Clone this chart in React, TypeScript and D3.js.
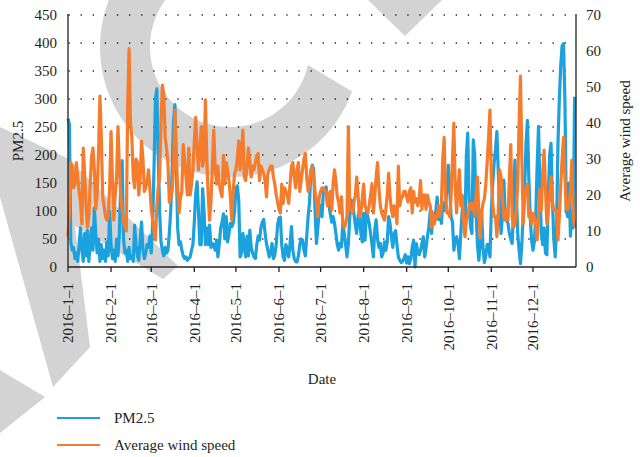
import React from 'react';
import * as d3 from 'd3';

// Daily PM2.5 values, 2016-01-01 .. 2016-12-31
const pm25: number[] = [
  265, 255, 45, 30, 35, 15, 25, 10, 40, 70,
  30, 10, 60, 20, 65, 10, 40, 70, 30, 105,
  60, 25, 50, 10, 40, 15, 30, 10, 45, 20,
  100, 40, 15, 30, 10, 50, 20, 60, 150, 190,
  50, 25, 30, 10, 35, 15, 20, 10, 75, 40,
  20, 12, 50, 80, 30, 15, 25, 40, 35, 55,
  25, 80, 180, 300, 318, 200, 100, 45, 30, 20,
  35, 25, 30, 60, 100, 170, 260, 290, 180, 70,
  40, 45, 30, 20, 15, 18, 12, 15, 18, 30,
  40, 80, 130, 152, 100, 40, 40, 140, 100, 40,
  70, 40, 75, 35, 42, 40, 30, 48, 18, 42,
  70, 80, 95, 50, 90, 45, 60, 78, 72, 78,
  100, 140, 145, 120, 18, 25, 60, 40, 18, 55,
  20, 66, 35, 25, 18, 15, 40, 55, 48, 70,
  80, 85, 60, 42, 30, 18, 25, 42, 15, 22,
  40, 75, 88, 89, 40, 18, 12, 40, 30, 18,
  42, 72, 30, 15, 10, 9, 20, 40, 50, 48,
  30, 20, 55, 90, 115, 170, 182, 175, 100, 42,
  70, 100, 110, 90, 135, 140, 143, 110, 110, 95,
  80, 90, 78, 60, 40, 30, 42, 36, 78, 60,
  40, 18, 42, 90, 120, 115, 95, 75, 60, 90,
  102, 60, 45, 96, 48, 102, 90, 78, 60, 40,
  18, 66, 84, 50, 35, 42, 18, 25, 45, 30,
  45, 90, 78, 55, 35, 60, 65, 40, 18, 12,
  8, 10, 15, 22, 7, 18, 6, 15, 35, 48,
  0, 42, 25, 22, 30, 42, 54, 18, 35, 55,
  72, 100, 60, 95, 78, 100, 125, 85, 102, 78,
  115, 105, 110, 140, 182, 140, 90, 80, 30, 48,
  54, 42, 15, 60, 100, 125, 70, 200, 239, 120,
  72, 60, 227, 200, 100, 40, 12, 42, 102, 35,
  8, 20, 40, 40, 18, 100, 150, 185, 210, 242,
  170, 110, 60, 90, 155, 95, 84, 78, 60, 50,
  42, 102, 191, 130, 60, 30, 6, 42, 96, 140,
  220, 262, 160, 90, 48, 30, 45, 90, 180, 251,
  140, 60, 40, 70, 25, 22, 120, 200, 221, 120,
  50, 18, 70, 220, 300, 360, 395, 399, 300, 100,
  90, 150, 55, 100, 70, 304,
];

// Daily average wind speed (right axis)
const windSpeed: number[] = [
  8.4, 15, 29, 28, 22, 23, 29, 25, 21, 18,
  12, 33, 26, 17, 11, 14, 23, 30.6, 33, 27,
  16, 20, 32, 47.5, 36, 19.5, 17, 14, 13, 14,
  22, 37.6, 25, 13, 20, 25, 39, 28, 19.5, 16,
  13, 11, 10, 45, 60.7, 40, 36, 25, 22, 30,
  29, 20, 25, 35, 30, 21, 22, 24, 27, 22,
  16, 13, 10, 7.5, 17, 22, 25, 40, 50.5, 48,
  36, 33, 29, 18, 19, 21, 27, 43.6, 32, 22,
  15, 19, 21, 34, 30, 25, 20, 33, 20, 23,
  27, 35, 41.6, 33, 27, 32.5, 39, 28, 30, 46.4,
  30, 20, 13, 18, 28, 38, 28, 23, 28, 23,
  21, 19.5, 31, 23, 29, 27, 24, 19.5, 13, 21,
  26, 27, 30, 35, 27, 32, 38, 25, 24, 28,
  33, 29, 25, 28, 27, 29, 31, 31.5, 24, 28,
  27, 26, 24, 19.5, 26, 27, 28, 28, 25, 23,
  20, 18, 16, 15, 23, 17.7, 22, 21, 20, 17.7,
  23, 28, 29, 25, 22, 27, 29, 21, 24, 27,
  30, 31.5, 25, 21, 23, 27, 28, 25, 21, 17.7,
  14, 19.5, 21, 22, 22, 21, 21, 17, 20, 21,
  15.8, 23, 27, 24, 19.5, 18, 15, 19.5, 12, 11,
  12, 14, 39, 16, 16, 15, 18, 20, 25, 20,
  14, 15, 19, 23, 17, 16, 15, 17, 20, 23,
  15, 19.5, 25, 29, 22, 17, 15, 14, 13, 16,
  20, 26, 19.5, 16, 14, 17, 16, 12, 28, 17,
  19, 19.5, 21, 21, 19.5, 18, 21, 22, 15, 21,
  18, 19, 17, 19, 24, 16, 20, 20, 16, 20,
  18, 17, 11, 15, 12, 14, 14, 17, 14, 17,
  30, 36, 20, 15, 15, 14, 19.5, 30, 40, 22,
  15, 22, 27, 17, 20, 13, 8.4, 13, 14, 17,
  17.7, 16, 17.7, 14, 20, 25, 15, 8, 15, 17.7,
  19, 23, 29, 36, 43.6, 25, 17.7, 14, 14, 8.4,
  15.8, 27, 25, 19.5, 14, 13, 15.8, 13, 25, 34,
  14, 11, 12, 15.8, 23, 40, 53, 29.7, 12, 19.5,
  22, 23, 14, 15.8, 12, 14.9, 14, 12, 7.5, 14,
  21.4, 15.8, 26, 32.5, 22, 12, 15.8, 20, 25, 18,
  15.8, 15.8, 15.8, 7.5, 14, 23, 30, 36, 25, 16,
  16, 17.7, 21, 29.7, 14, 11,
];

const startDate = new Date(2016, 0, 1);
const endDate = new Date(2017, 0, 1);
const dates: Date[] = pm25.map((_, i) => d3.timeDay.offset(startDate, i));
const monthTicks: Date[] = d3.timeMonth.range(startDate, endDate);
const leftTicks = [0, 50, 100, 150, 200, 250, 300, 350, 400, 450];
const rightTicks = [0, 10, 20, 30, 40, 50, 60, 70];
const seriesNames = ['PM2.5', 'Average wind speed'];
const colors = ['#1ba1dd', '#f47c2c'];

const fmtDate = (d: Date) => `${d.getFullYear()}–${d.getMonth() + 1}–${d.getDate()}`;

const FONT = "'Liberation Serif', 'Times New Roman', serif";
const INK = '#231f20';

function ringPath(cx: number, cy: number, r1: number, r2: number, aOut: number, aIn: number, aEnd: number) {
  const rad = (a: number) => (a * Math.PI) / 180;
  const p = (r: number, a: number) => `${cx + r * Math.cos(rad(a))},${cy + r * Math.sin(rad(a))}`;
  return `M${p(r2, aOut)} A${r2},${r2} 0 1 1 ${p(r2, aEnd)} L${p(r1, aEnd)} A${r1},${r1} 0 1 0 ${p(r1, aIn)} Z`;
}

export default function App() {
  const W = 640;
  const H = 457;
  const left = 68, right = 576, top = 15, bottom = 267;

  const x = d3.scaleTime().domain([startDate, endDate]).range([left, right]);
  const yL = d3.scaleLinear().domain([0, 450]).range([bottom, top]);
  const yR = d3.scaleLinear().domain([0, 70]).range([bottom, top]);

  const linePM = d3.line<number>().x((_, i) => x(dates[i])).y((d) => yL(d));
  const lineWS = d3.line<number>().x((_, i) => x(dates[i])).y((d) => yR(d));

  const textStyle: React.CSSProperties = { fontFamily: FONT, fontSize: '15px' };

  return (
    <svg width={W} height={H} style={{ position: 'absolute', left: 0, top: 0, display: 'block', background: '#fff' }}>
      {/* watermark */}
      <g fill="#d3d3d3">
        <path d={ringPath(230, 47, 80, 130, 20, 13, 250)} />
        <path d="M368,0 L442,0 L405,36 Z" />
        <path d="M0,127 L67,158 L178,266 L163,279 L75,226 L90,347 L53,387 L0,197 Z" />
        <path d="M0,370 L45,397 L0,433 Z" />
      </g>

      {/* dotted horizontal grid */}
      <g stroke={INK} strokeWidth={1.3} strokeDasharray="1.3,10.8">
        {leftTicks.filter((t) => t > 0).map((t) => (
          <line key={t} x1={left + 0.5} x2={right} y1={yL(t)} y2={yL(t)} />
        ))}
      </g>

      {/* series */}
      <path d={linePM(pm25) || ''} fill="none" stroke={colors[0]} strokeWidth={3.2} strokeLinejoin="round" />
      <path d={lineWS(windSpeed) || ''} fill="none" stroke={colors[1]} strokeWidth={3.2} strokeLinejoin="round" />

      {/* axes */}
      <g stroke={INK} strokeWidth={1.3}>
        <line x1={left} x2={left} y1={top - 1} y2={bottom} />
        <line x1={right} x2={right} y1={top - 1} y2={bottom} />
        <line x1={left} x2={right} y1={bottom} y2={bottom} />
        {monthTicks.map((d) => (
          <line key={+d} x1={x(d)} x2={x(d)} y1={bottom} y2={bottom + 5} />
        ))}
      </g>

      <g style={textStyle} fill={INK}>
        {leftTicks.map((t) => (
          <text key={t} style={textStyle} x={left - 11} y={yL(t)} dy="0.35em" textAnchor="end">{t}</text>
        ))}
        {rightTicks.map((t) => (
          <text key={t} style={textStyle} x={right + 10} y={yR(t)} dy="0.35em" textAnchor="start">{t}</text>
        ))}
        {monthTicks.map((d) => (
          <text key={+d} style={textStyle} transform={`translate(${x(d)},${bottom + 16}) rotate(-90)`} dy="0.35em" textAnchor="end">
            {fmtDate(d)}
          </text>
        ))}
        <text style={textStyle} x={(left + right) / 2} y={384} textAnchor="middle">Date</text>
        <text style={textStyle} transform={`translate(23,${(top + bottom) / 2}) rotate(-90)`} textAnchor="middle">{seriesNames[0]}</text>
        <text style={textStyle} transform={`translate(630,${(top + bottom) / 2}) rotate(-90)`} textAnchor="middle">{seriesNames[1]}</text>
      </g>

      {/* legend */}
      <g fill={INK}>
        {seriesNames.map((name, i) => (
          <g key={name} transform={`translate(0,${418 + i * 27})`}>
            <line x1={57} x2={100} y1={0} y2={0} stroke={colors[i]} strokeWidth={2} />
            <text style={textStyle} x={114} y={0} dy="0.35em">{name}</text>
          </g>
        ))}
      </g>
    </svg>
  );
}
